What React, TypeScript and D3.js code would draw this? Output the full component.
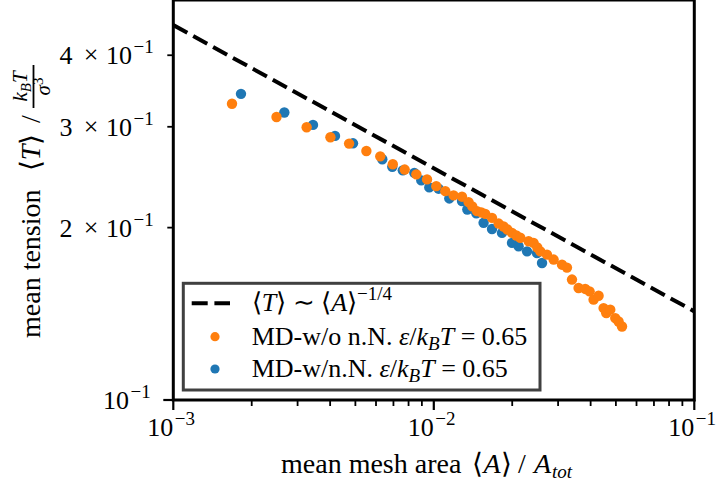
import React from "react";
import * as d3 from "d3";

const W = 719;
const H = 485;

// MD without next-neighbour interaction: mean mesh area / A_tot and mean tension
const orangeA = [
  1.68e-3, 2.49e-3, 3.25e-3, 4.01e-3, 4.73e-3, 5.51e-3, 6.23e-3, 6.96e-3, 7.73e-3, 8.57e-3,
  9.42e-3, 1.022e-2, 1.107e-2, 1.191e-2, 1.283e-2, 1.36e-2, 1.405e-2, 1.465e-2, 1.522e-2, 1.576e-2,
  1.673e-2, 1.774e-2, 1.853e-2, 1.915e-2, 1.996e-2, 2.073e-2, 2.148e-2, 2.312e-2, 2.416e-2, 2.496e-2,
  2.564e-2, 2.72e-2, 2.884e-2, 3.105e-2, 3.245e-2, 3.392e-2, 3.596e-2, 3.815e-2, 3.963e-2, 4.105e-2,
  4.291e-2, 4.485e-2, 4.594e-2, 4.758e-2, 4.973e-2, 5.121e-2, 5.278e-2,
];
const orangeT = [
  0.3291, 0.312, 0.2995, 0.2876, 0.2804, 0.2722, 0.2664, 0.258, 0.2526, 0.2478,
  0.2428, 0.2363, 0.2316, 0.2277, 0.2265, 0.2216, 0.2178, 0.2137, 0.2126, 0.2114,
  0.208, 0.2033, 0.2009, 0.1985, 0.1958, 0.1938, 0.192, 0.1893, 0.1881, 0.1846,
  0.1818, 0.1794, 0.1759, 0.1723, 0.1703, 0.1623, 0.1569, 0.1563, 0.1548, 0.1497,
  0.1521, 0.1447, 0.1418, 0.1438, 0.139, 0.1371, 0.1344,
];

// MD with next-neighbour interaction
const blueA = [
  1.819e-3, 2.668e-3, 3.438e-3, 4.176e-3, 4.896e-3, 6.343e-3, 6.929e-3, 7.603e-3, 8.418e-3, 8.954e-3,
  9.609e-3, 1.043e-2, 1.147e-2, 1.283e-2, 1.345e-2, 1.456e-2, 1.553e-2, 1.673e-2, 1.827e-2, 1.996e-2,
  2.116e-2, 2.28e-2, 2.49e-2, 2.603e-2,
];
const blueT = [
  0.3425, 0.3177, 0.3023, 0.2892, 0.2807, 0.2633, 0.2554, 0.2518, 0.2493, 0.2418,
  0.2351, 0.2339, 0.2249, 0.2225, 0.2151, 0.2118, 0.2039, 0.1989, 0.1958, 0.1881,
  0.1856, 0.1818, 0.1806, 0.1735,
];

// Power-law guide <T> ~ c <A>^(-1/4)
const guideCoef = 0.0803;
const guideExp = -0.25;

const xDomain: [number, number] = [1e-3, 1e-1];
const yDomain: [number, number] = [0.1, 0.4995];
const xMajorTicks = [1e-3, 1e-2, 1e-1];
const xMajorExps = ["−3", "−2", "−1"];
const yMajorTicks = [0.1];
const yMajorExps = ["−1"];
const yMinorLabelTicks = [0.2, 0.3, 0.4];
const yMinorLabelMantissas = ["2", "3", "4"];

const ORANGE = "#ff7f0e";
const BLUE = "#1f77b4";
const FONT = "'Liberation Serif', 'Times New Roman', serif";
const FS = 26; // tick labels, legend
const LFS = 28; // axis labels
const SUP = 19;

const plot = { left: 173.3, right: 694.3, top: 0, bottom: 400 };

function Pow10({ x, y, exp }: { x: number; y: number; exp: string }) {
  // "10" right-aligned at x, exponent starting just after it
  return (
    <g>
      <text x={x} y={y} fontSize={FS} textAnchor="end">
        10
      </text>
      <text x={x + 1.5} y={y - 11} fontSize={SUP} textAnchor="start">
        {exp}
      </text>
    </g>
  );
}

export default function App() {
  const x = d3.scaleLog().domain(xDomain).range([plot.left, plot.right]);
  const y = d3.scaleLog().domain(yDomain).range([plot.bottom, plot.top]);

  const xMinor: number[] = [];
  for (const d of [1e-3, 1e-2]) for (let k = 2; k <= 9; k++) xMinor.push(k * d);
  const yMinor = [0.2, 0.3, 0.4];

  const guide = d3
    .line<number>()
    .x((a) => x(a))
    .y((a) => y(guideCoef * Math.pow(a, guideExp)))(xDomain) as string;

  const orangePts = orangeA.map((a, i) => ({ a, t: orangeT[i] }));
  const bluePts = blueA.map((a, i) => ({ a, t: blueT[i] }));

  const legX = 183.3;
  const legY = 283.3;

  return (
    <svg
      width={W}
      height={H}
      style={{ position: "absolute", left: 0, top: 0, background: "#fff" }}
      fontFamily={FONT}
    >
      <defs>
        <clipPath id="plot-clip">
          <rect x={plot.left} y={plot.top} width={plot.right - plot.left} height={plot.bottom - plot.top} />
        </clipPath>
      </defs>
      <rect x={0} y={0} width={W} height={H} fill="#fff" />

      <g clipPath="url(#plot-clip)">
        <path d={guide} fill="none" stroke="#000" strokeWidth={4} strokeDasharray="16 6.7" />
        {bluePts.map((p, i) => (
          <circle key={"b" + i} cx={x(p.a)} cy={y(p.t)} r={5.2} fill={BLUE} />
        ))}
        {orangePts.map((p, i) => (
          <circle key={"o" + i} cx={x(p.a)} cy={y(p.t)} r={5.2} fill={ORANGE} />
        ))}
      </g>

      {/* axes frame */}
      <rect
        x={plot.left}
        y={plot.top}
        width={plot.right - plot.left}
        height={plot.bottom - plot.top}
        fill="none"
        stroke="#000"
        strokeWidth={3}
      />

      {/* x ticks */}
      {xMajorTicks.map((v, i) => (
        <g key={"xm" + i}>
          <line x1={x(v)} x2={x(v)} y1={plot.bottom} y2={plot.bottom + 10} stroke="#000" strokeWidth={2.2} />
          <Pow10 x={x(v)} y={436} exp={xMajorExps[i]} />
        </g>
      ))}
      {xMinor.map((v, i) => (
        <line key={"xn" + i} x1={x(v)} x2={x(v)} y1={plot.bottom} y2={plot.bottom + 6} stroke="#000" strokeWidth={1.8} />
      ))}

      {/* y ticks */}
      {yMajorTicks.map((v, i) => (
        <g key={"ym" + i}>
          <line x1={plot.left - 10} x2={plot.left} y1={y(v)} y2={y(v)} stroke="#000" strokeWidth={2.2} />
          <Pow10 x={129} y={y(v) + 9} exp={yMajorExps[i]} />
        </g>
      ))}
      {yMinor.map((v, i) => (
        <line key={"yn" + i} x1={plot.left - 6} x2={plot.left} y1={y(v)} y2={y(v)} stroke="#000" strokeWidth={1.8} />
      ))}
      {yMinorLabelTicks.map((v, i) => (
        <g key={"yl" + i}>
          <text x={66} y={y(v) + 9} fontSize={FS} textAnchor="middle">
            {yMinorLabelMantissas[i]}
          </text>
          <text x={91} y={y(v) + 8} fontSize={FS} textAnchor="middle">
            ×
          </text>
          <Pow10 x={132} y={y(v) + 9} exp="−1" />
        </g>
      ))}

      {/* x label */}
      <g fontSize={LFS}>
        <text x={281} y={473}>mean mesh area</text>
        <text x={492} y={473} textAnchor="middle">
          ⟨<tspan fontStyle="italic">A</tspan>⟩
        </text>
        <text x={522} y={473} textAnchor="middle">
          /
        </text>
        <text x={534} y={473} fontStyle="italic">
          A
        </text>
        <text x={552} y={478} fontSize={SUP} fontStyle="italic">
          tot
        </text>
      </g>

      {/* y label with fraction */}
      <g transform="translate(40,200) rotate(-90)" fontSize={LFS}>
        <text x={-138} y={0}>mean tension</text>
        <text x={47.5} y={0} textAnchor="middle">
          ⟨<tspan fontStyle="italic">T</tspan>⟩
        </text>
        <text x={81} y={0} textAnchor="middle">
          /
        </text>
        <text x={113.5} y={-13} fontSize={21} textAnchor="middle">
          <tspan fontStyle="italic">k</tspan>
          <tspan dy={3.5} fontSize={15} fontStyle="italic">
            B
          </tspan>
          <tspan dy={-3.5} fontStyle="italic">
            T
          </tspan>
        </text>
        <line x1={92} x2={135} y1={-6.5} y2={-6.5} stroke="#000" strokeWidth={1.8} />
        <text x={113.5} y={9.5} fontSize={21} textAnchor="middle">
          <tspan fontStyle="italic">σ</tspan>
          <tspan dy={-7} fontSize={15}>
            3
          </tspan>
        </text>
      </g>

      {/* legend */}
      <rect x={legX} y={legY} width={356.7} height={106.7} fill="#fff" stroke="#404040" strokeWidth={3} />
      <line x1={191.7} x2={230} y1={303.3} y2={303.3} stroke="#000" strokeWidth={4} strokeDasharray="16 6.7" />
      <circle cx={215} cy={336.7} r={4.6} fill={ORANGE} />
      <circle cx={215} cy={369} r={4.6} fill={BLUE} />
      <text x={251.7} y={311} fontSize={FS}>
        ⟨<tspan fontStyle="italic">T</tspan>⟩ ∼ ⟨<tspan fontStyle="italic">A</tspan>⟩
        <tspan dy={-11} fontSize={SUP}>
          −1/4
        </tspan>
      </text>
      <text x={251.7} y={345} fontSize={FS}>
        MD-w/o n.N. <tspan fontStyle="italic">ε</tspan>/<tspan fontStyle="italic">k</tspan>
        <tspan dy={5} fontSize={SUP} fontStyle="italic">
          B
        </tspan>
        <tspan dy={-5} fontStyle="italic">
          T
        </tspan>{" "}
        = 0.65
      </text>
      <text x={251.7} y={377} fontSize={FS}>
        MD-w/n.N. <tspan fontStyle="italic">ε</tspan>/<tspan fontStyle="italic">k</tspan>
        <tspan dy={5} fontSize={SUP} fontStyle="italic">
          B
        </tspan>
        <tspan dy={-5} fontStyle="italic">
          T
        </tspan>{" "}
        = 0.65
      </text>
    </svg>
  );
}
